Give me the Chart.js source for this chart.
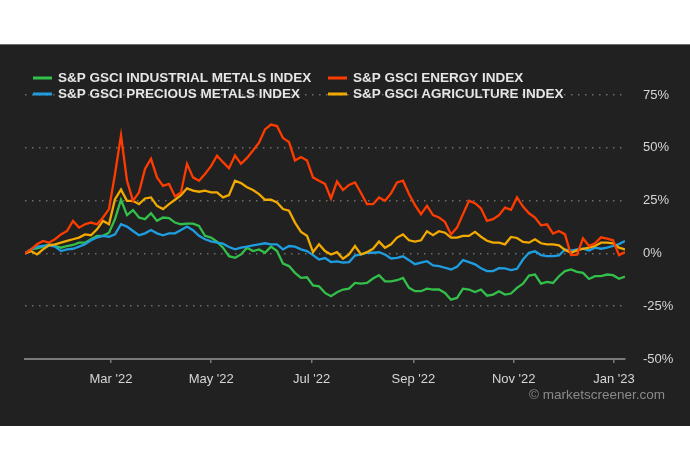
<!DOCTYPE html>
<html>
<head>
<meta charset="utf-8">
<script src="https://cdn.jsdelivr.net/npm/chart.js@4.4.1/dist/chart.umd.min.js"></script>
<style>
  body { margin: 0; background: #fff; font-family: 'Liberation Sans', Arial, sans-serif; }
  #panel { position: absolute; left: 0; top: 44px; width: 690px; height: 381px;
           background: #212121; border-top: 1px solid #6b6b6b; }
  #wrap { position: absolute; left: 0; top: 0; width: 690px; height: 381px; }
  #credit { position: absolute; right: 25px; top: 342px; color: #8a8a8a;
            font-size: 13.5px; line-height: 16px; }
</style>
</head>
<body>
<div id="panel">
  <div id="wrap"><canvas id="myChart"></canvas></div>
  <div id="credit">© marketscreener.com</div>
</div>
<script>
  // days counted from 2022-01-01, one sample every ~3.65 days
  const startDay = 6.7;
  const stepDays = 3.65;

  const seriesNames = [
    'S&P GSCI INDUSTRIAL METALS INDEX',
    'S&P GSCI ENERGY INDEX',
    'S&P GSCI PRECIOUS METALS INDEX',
    'S&P GSCI AGRICULTURE INDEX',
  ];

  const industrial = [
    0, 1.9, 2.4, 3.2, 4.3, 3.5, 2.7, 3.5, 4, 5.1, 5.1, 6.7, 8.3, 8.3, 9.8, 16.2, 25.4, 18.1, 20.5, 17, 16.2, 19, 15.4, 17, 16.7, 14.6,
    13.8, 14.1, 14.1, 13, 8.3, 7.5, 5.6, 2.7, -1.3, -2.1, -0.5, 2.7, 1.1, 1.9, 0.3, 3.2, 1.1, -4.8, -6, -9.2, -11.6, -11.3, -15.2, -15.6, -18.7,
    -20.3, -18.4, -17.1, -16.7, -14, -14.3, -14, -11.9, -10.3, -13.2, -13.2, -12.7, -11.6, -16.3, -17.9, -17.9, -16.7, -17.1, -17.1, -18.7, -21.9, -21.1, -16.7, -17.1, -18.3,
    -17.1, -20, -19.5, -17.9, -19.5, -19, -16.3, -14.3, -10.5, -10, -14.3, -13.5, -14, -10.8, -8.4, -7.6, -8.7, -9.2, -12.1, -10.8, -10.8, -10, -10.3, -12, -11
  ];
  const energy = [
    0, 1.9, 4.3, 5.9, 5.1, 6.7, 9, 10.6, 15.4, 12.2, 13.8, 14.6, 13.8, 17, 21, 37.6, 55.9, 34.4, 24.9, 28.9, 40, 44.8, 36, 32, 32.9, 27,
    28.9, 42.4, 36, 34.4, 37.6, 41.3, 46.3, 43.2, 40.3, 46.3, 42.4, 45.2, 48.7, 52.4, 58.7, 61, 60.3, 54.6, 52.7, 44, 45.6, 44, 36, 34.4, 32.9,
    26, 34, 30, 32.4, 33.6, 28.6, 23.3, 23.3, 26.5, 24.9, 28.4, 33.6, 34.4, 28.1, 22.9, 18.6, 22.5, 18.1, 17, 14.9, 9, 12.2, 18.6, 24.9, 23.8,
    21.3, 15.4, 16.2, 18.1, 21.7, 20.6, 26.5, 22.2, 19, 17, 13.3, 13.8, 9.4, 10.6, 9, -0.8, -0.6, 7.1, 3.5, 4.8, 7.6, 7, 6.2, -0.8, 0.6
  ];
  const precious = [
    0, 1.9, 3.2, 3.5, 3.8, 3.2, 1.1, 1.9, 2.2, 3.2, 4.3, 6.2, 7.5, 8.3, 7.9, 9, 13.8, 12.7, 10.6, 8.6, 9.5, 11.1, 9.5, 8.6, 9.5, 9.5,
    11.1, 12.7, 11, 8.3, 6.7, 5.7, 5.1, 4.6, 3, 1.9, 2.7, 3.2, 3.8, 4.3, 4.8, 4.3, 4.3, 1.9, 3.5, 3.2, 1.9, 1.1, -0.8, -2.9, -2.2,
    -4.1, -3.8, -4.4, -4.1, -1, -0.5, 0.3, 0.3, 0.6, -0.5, -2.4, -2.1, -1.4, -3.2, -5.1, -4.4, -3.7, -5.7, -6, -6.8, -7.6, -6.3, -3.2, -4.1, -5.2,
    -7, -8.4, -8.4, -7, -7.1, -7.9, -7.3, -2.9, 0.3, 1, -0.8, -1.3, -1.3, -1, 1.9, 1.3, 1.9, 2.2, 1.4, 2.7, 2.2, 2.7, 3.5, 4.4, 5.9
  ];
  const agriculture = [
    0, 1.1, -0.5, 1.9, 3.8, 4.3, 5.1, 5.9, 6.7, 7.5, 9, 8.6, 11.4, 15.4, 13.8, 25.7, 30.2, 24.9, 24.9, 23.3, 26, 26.5, 22.5, 21, 23.3, 25.4,
    27.6, 30.8, 29.7, 29.2, 29.7, 28.9, 28.9, 26.5, 27.6, 34.4, 33.3, 31.3, 30, 28.1, 25.4, 25.4, 24.1, 21, 20.2, 14.6, 10.2, 8.3, 0.6, 4.3, 1.1,
    -0.5, 0.6, -2.5, -0.5, 3.5, -0.5, 0.6, 2.2, 5.6, 2.7, 4.3, 7.5, 9, 6.2, 5.6, 6.2, 10.5, 8.6, 10.5, 9.8, 7.5, 7.5, 8.3, 8.3, 10.2,
    7.9, 6, 5.1, 5.1, 4.3, 7.8, 7.3, 5.4, 5.1, 6.7, 4.8, 4.3, 4.3, 3.8, 1.6, 0.3, 1.4, 2.2, 2.7, 3.5, 5.1, 5.1, 4.8, 2.7, 1.9
  ];

  // month starts (days from 2022-01-01) and their labels
  const monthTicks = [59, 120, 181, 243, 304, 365];
  const monthLabels = ["Mar '22", "May '22", "Jul '22", "Sep '22", "Nov '22", "Jan '23"];
  const yTicks = [75, 50, 25, 0, -25, -50];

  const colors = ['#33c04a', '#ff3c00', '#1e9de0', '#f2a900'];
  const allSeries = [industrial, energy, precious, agriculture];
  const drawOrder = [3, 0, 2, 1];

  const toPoints = arr => arr.map((v, i) => ({ x: startDay + i * stepDays, y: v }));

  const data = {
    datasets: allSeries.map((s, k) => ({
      label: seriesNames[k],
      data: toPoints(s),
      borderColor: colors[k],
      borderWidth: 2.3,
      pointRadius: 0,
      tension: 0,
      order: drawOrder[k],
    }))
  };

  // legend sits over the top grid line, so draw it by hand
  const legendOnTop = {
    id: 'legendOnTop',
    afterDraw(chart) {
      const ctx = chart.ctx;
      const cols = [33, 328];
      const rows = [33, 49];
      ctx.save();
      ctx.font = 'bold 13.5px "Liberation Sans", Arial, sans-serif';
      ctx.textBaseline = 'middle';
      chart.data.datasets.forEach((ds, k) => {
        const x = cols[k % 2];
        const y = rows[Math.floor(k / 2)];
        ctx.fillStyle = ds.borderColor;
        ctx.fillRect(x, y - 1.5, 19, 3);
        ctx.fillStyle = '#e6e6e6';
        ctx.fillText(ds.label, x + 25, y + 0.5);
      });
      ctx.restore();
    }
  };

  const config = {
    type: 'line',
    data: data,
    options: {
      responsive: true,
      maintainAspectRatio: false,
      animation: false,
      layout: { padding: { top: 50, left: 25, right: 0, bottom: 0 } },
      plugins: { legend: { display: false }, tooltip: { enabled: false } },
      scales: {
        x: {
          type: 'linear',
          min: 6.7,
          max: 371.7,
          afterBuildTicks: scale => { scale.ticks = monthTicks.map(v => ({ value: v })); },
          afterFit: scale => { scale.height = 67; },
          ticks: {
            color: '#d6d6d6',
            font: { size: 13, family: '"Liberation Sans", Arial, sans-serif' },
            padding: 9,
            maxRotation: 0,
            autoSkip: false,
            callback: v => monthLabels[monthTicks.indexOf(v)],
          },
          grid: { drawOnChartArea: false, drawTicks: true, tickLength: 4, color: '#7a7a7a', lineWidth: 1.5 },
          border: { display: true, color: '#7a7a7a', width: 2 },
        },
        y: {
          position: 'right',
          min: -50,
          max: 75,
          afterBuildTicks: scale => { scale.ticks = yTicks.map(v => ({ value: v })); },
          afterFit: scale => { scale.width = 65; },
          ticks: {
            color: '#d6d6d6',
            font: { size: 13, family: '"Liberation Sans", Arial, sans-serif' },
            padding: 18,
            callback: v => v + '%',
          },
          grid: {
            drawTicks: false,
            lineWidth: 1.5,
            color: c => (c.tick && c.tick.value === -50) ? 'rgba(0,0,0,0)' : '#6e6e6e',
          },
          border: { display: false, dash: [1.5, 5.5] },
        }
      }
    },
    plugins: [legendOnTop]
  };

  const myChart = new Chart(document.getElementById('myChart'), config);
</script>
</body>
</html>
